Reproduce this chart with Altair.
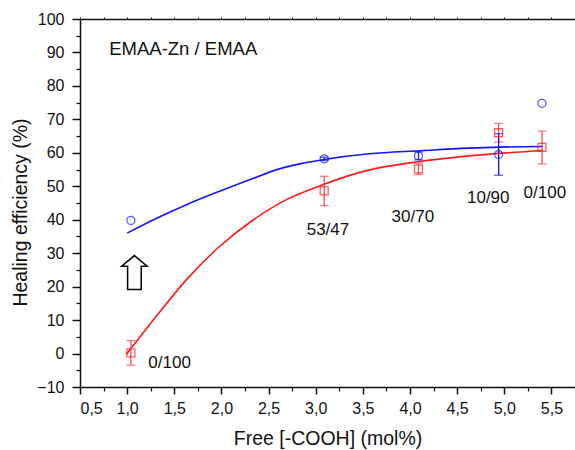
import altair as alt
import pandas as pd

# ---- data ----
blue_x = [1.04, 3.09, 4.09, 4.94, 5.40]
blue_y = [39.8, 58.2, 59.1, 59.5, 74.8]
blue_err = [0.0, 0.5, 1.2, 6.2, 0.0]

red_x = [1.04, 3.09, 4.09, 4.94, 5.40]
red_y = [0.2, 48.6, 55.2, 66.0, 61.6]
red_err = [3.7, 4.4, 1.7, 2.8, 4.9]

bfit_x = [1.00, 1.28, 1.63, 1.98, 2.34, 2.58, 2.83, 3.09, 3.57, 4.10, 4.63, 4.95, 5.41]
bfit_y = [36.0, 40.0, 44.5, 48.5, 52.4, 54.9, 56.7, 58.0, 59.7, 60.6, 61.4, 61.7, 61.9]
rfit_x = [0.99, 1.28, 1.63, 1.98, 2.34, 2.69, 3.04, 3.57, 4.10, 4.63, 5.41]
rfit_y = [-0.3, 10.1, 22.1, 32.0, 40.0, 46.0, 50.1, 54.9, 57.4, 59.1, 60.7]

ann_text = ["53/47", "30/70", "10/90", "0/100", "0/100"]
ann_x = [3.13, 4.03, 4.83, 5.43, 1.45]
ann_y = [37.0, 40.9, 46.6, 48.1, -2.7]

title_text = ["EMAA-Zn / EMAA"]
title_x = [0.81]
title_y = [91.0]

arrow_x = [1.077]
arrow_y = [24.2]

x_major = [0.5, 1.0, 1.5, 2.0, 2.5, 3.0, 3.5, 4.0, 4.5, 5.0, 5.5]
x_minor = [0.75, 1.25, 1.75, 2.25, 2.75, 3.25, 3.75, 4.25, 4.75, 5.25, 5.75]
x_top = [0.5, 0.75, 1.0, 1.25, 1.5, 1.75, 2.0, 2.25, 2.5, 2.75, 3.0, 3.25, 3.5,
         3.75, 4.0, 4.25, 4.5, 4.75, 5.0, 5.25, 5.5]
y_major = [-10, 0, 10, 20, 30, 40, 50, 60, 70, 80, 90, 100]
y_minor = [-5, 5, 15, 25, 35, 45, 55, 65, 75, 85, 95]

BLUE = "#1414ff"
RED = "#ff1a1a"
RED_ERR = "#ff4a4a"
FONT = "Liberation Sans"
INK = "#111111"

xs = alt.Scale(domain=[0.5, 5.75], nice=False, zero=False)
ys = alt.Scale(domain=[-10, 100], nice=False, zero=False)

pts = pd.DataFrame({
    "x": blue_x + red_x,
    "y": blue_y + red_y,
    "err": blue_err + red_err,
    "s": ["b"] * len(blue_x) + ["r"] * len(red_x),
})
pts["lo"] = pts["y"] - pts["err"]
pts["hi"] = pts["y"] + pts["err"]
bpts = pts[pts.s == "b"]
rpts = pts[pts.s == "r"]

bfit = pd.DataFrame({"x": bfit_x, "y": bfit_y})
rfit = pd.DataFrame({"x": rfit_x, "y": rfit_y})
ann = pd.DataFrame({"x": ann_x, "y": ann_y, "t": ann_text})
ttl = pd.DataFrame({"x": title_x, "y": title_y, "t": title_text})
arr = pd.DataFrame({"x": arrow_x, "y": arrow_y})

label_expr = "replace(format(datum.value, '.1f'), '.', ',')"

common = dict(labelFont=FONT, titleFont=FONT, labelFontSize=16, titleFontSize=19.5,
              labelColor=INK, titleColor=INK, domainColor=INK, tickColor=INK,
              titleFontWeight="normal", grid=False)

main_x_axis = alt.Axis(values=x_major, labelExpr=label_expr, title="Free [-COOH] (mol%)",
                       tickSize=7, tickWidth=1.5, domainWidth=1.5, labelPadding=6,
                       orient="bottom", titleY=57, titleBaseline="alphabetic", **common)
main_y_axis = alt.Axis(values=y_major, format="d", title="Healing efficiency (%)",
                       tickSize=8, tickWidth=1.5, domainWidth=1.5, labelPadding=8,
                       orient="left", titleX=-60, titleY=193,
                       titleBaseline="middle", **common)

minor_x_axis = alt.Axis(values=x_minor, labels=False, title="", tickSize=4, tickWidth=1.2,
                        domain=False, orient="bottom", tickColor=INK, grid=False)
minor_y_axis = alt.Axis(values=y_minor, labels=False, title="", tickSize=4, tickWidth=1.2,
                        domain=False, orient="left", tickColor=INK, grid=False)
top_x_axis = alt.Axis(values=x_top, labels=False, title="", tickSize=2, tickWidth=1,
                      domainWidth=1.5, orient="top", tickColor=INK, domainColor=INK,
                      grid=False)

bline = alt.Chart(bfit).mark_line(color=BLUE, strokeWidth=1.6, interpolate="monotone").encode(
    x=alt.X("x:Q", scale=xs, axis=main_x_axis),
    y=alt.Y("y:Q", scale=ys, axis=main_y_axis),
)
rline = alt.Chart(rfit).mark_line(color=RED, strokeWidth=1.6, interpolate="monotone").encode(
    x=alt.X("x:Q", scale=xs, axis=minor_x_axis),
    y=alt.Y("y:Q", scale=ys, axis=minor_y_axis),
)

def err_layers(df, color):
    rule = alt.Chart(df).mark_rule(color=color, strokeWidth=1.3).encode(
        x=alt.X("x:Q", scale=xs, axis=None),
        y=alt.Y("lo:Q", scale=ys, axis=None),
        y2="hi:Q",
    )
    cap_lo = alt.Chart(df).mark_tick(color=color, thickness=1.3, size=9, orient="horizontal").encode(
        x=alt.X("x:Q", scale=xs, axis=None),
        y=alt.Y("lo:Q", scale=ys, axis=None),
    )
    cap_hi = alt.Chart(df).mark_tick(color=color, thickness=1.3, size=9, orient="horizontal").encode(
        x=alt.X("x:Q", scale=xs, axis=None),
        y=alt.Y("hi:Q", scale=ys, axis=None),
    )
    return [rule, cap_lo, cap_hi]

berr = err_layers(bpts[bpts.err > 0], BLUE)
rerr = err_layers(rpts, RED_ERR)

bcirc = alt.Chart(bpts).mark_point(shape="circle", size=64, color=BLUE, strokeWidth=1.3,
                                   filled=False).encode(
    x=alt.X("x:Q", scale=xs, axis=top_x_axis),
    y=alt.Y("y:Q", scale=ys, axis=None),
)
rsq = alt.Chart(rpts).mark_point(shape="square", size=64, color=RED, strokeWidth=1.3,
                                 filled=False).encode(
    x=alt.X("x:Q", scale=xs, axis=None),
    y=alt.Y("y:Q", scale=ys, axis=None),
)

anns = alt.Chart(ann).mark_text(font=FONT, fontSize=17, color=INK, align="center",
                                baseline="middle").encode(
    x=alt.X("x:Q", scale=xs, axis=None),
    y=alt.Y("y:Q", scale=ys, axis=None),
    text="t:N",
)
ttls = alt.Chart(ttl).mark_text(font=FONT, fontSize=18.5, color=INK, align="left",
                                baseline="middle").encode(
    x=alt.X("x:Q", scale=xs, axis=None),
    y=alt.Y("y:Q", scale=ys, axis=None),
    text="t:N",
)

arrow_path = "M 0 -1 L 0.75 -0.37 L 0.4 -0.37 L 0.4 1 L -0.4 1 L -0.4 -0.37 L -0.75 -0.37 Z"
arrows = alt.Chart(arr).mark_point(shape=arrow_path, size=1156, filled=True, fill="white",
                                   stroke="black", strokeWidth=1.5, opacity=1).encode(
    x=alt.X("x:Q", scale=xs, axis=None),
    y=alt.Y("y:Q", scale=ys, axis=None),
)

chart = alt.layer(
    bline, rline, *rerr, *berr, rsq, bcirc, anns, ttls, arrows
).resolve_axis(x="independent", y="independent").properties(
    width=495, height=368,
    padding={"left": 80, "top": 19, "right": 0, "bottom": 63},
    autosize=alt.AutoSizeParams(type="none"),
    background="white",
).configure_view(stroke=None)

chart.save("out.html", embed_options={"renderer": "svg", "actions": False})
